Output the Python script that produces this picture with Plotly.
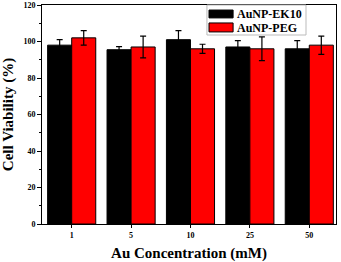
import plotly.graph_objects as go

categories = ["1", "5", "10", "25", "50"]
ek10 = [98, 95.5, 101, 97, 96]
ek10_err = [3, 1.7, 5, 3.5, 4.5]
peg = [102, 97, 96, 96, 98]
peg_err = [4, 6, 2.5, 6.5, 5]
series_names = ["AuNP-EK10", "AuNP-PEG"]
series_colors = ["#000000", "#ff0000"]

font_family = "Liberation Serif, Times New Roman, serif"

fig = go.Figure()
for name, vals, errs, col in zip(series_names, [ek10, peg], [ek10_err, peg_err], series_colors):
    fig.add_trace(go.Bar(
        x=categories, y=vals, name=name, showlegend=False,
        marker=dict(color=col, line=dict(color="#000000", width=1)),
        error_y=dict(type="data", array=errs, color="#000000", thickness=1.2, width=3),
    ))

# custom legend (box, swatches, labels) in paper coordinates
fig.add_shape(type="rect", xref="paper", yref="paper", x0=0.561, x1=0.898, y0=0.863, y1=1.0,
              line=dict(color="#bbbbbb", width=1), fillcolor="white", layer="above")
sw_y = [(0.941, 0.977), (0.877, 0.918)]
txt_y = [0.959, 0.897]
for i, (name, col) in enumerate(zip(series_names, series_colors)):
    fig.add_shape(type="rect", xref="paper", yref="paper", x0=0.568, x1=0.650,
                  y0=sw_y[i][0], y1=sw_y[i][1], line=dict(color="black", width=1),
                  fillcolor=col, layer="above")
    fig.add_annotation(xref="paper", yref="paper", x=0.656, y=txt_y[i], xanchor="left", yanchor="middle",
                       text="<b>" + name + "</b>", showarrow=False,
                       font=dict(family=font_family, size=12, color="black"))

fig.update_layout(
    width=341, height=262,
    margin=dict(l=42, r=5, t=5, b=38, autoexpand=False),
    barmode="group", bargap=0.19, bargroupgap=0,
    plot_bgcolor="white", paper_bgcolor="white",
    font=dict(family=font_family, color="black"),
    showlegend=False,
    xaxis=dict(
        type="category", range=[-0.5, 4.45], automargin=False,
        showline=True, linecolor="black", linewidth=1, mirror=True,
        ticks="outside", ticklen=3, tickcolor="black",
        tickfont=dict(family=font_family, size=8, color="black", weight="bold"),
        title=dict(text="<b>Au Concentration (mM)</b>", font=dict(family=font_family, size=15, color="black")),
        showgrid=False,
    ),
    yaxis=dict(
        range=[0, 120], dtick=20, automargin=False,
        showline=True, linecolor="black", linewidth=1, mirror=True,
        ticks="outside", ticklen=4, tickcolor="black",
        minor=dict(dtick=10, ticks="outside", ticklen=2, tickcolor="black"),
        tickfont=dict(family=font_family, size=8, color="black", weight="bold"),
        title=dict(text="<b>Cell Viability (%)</b>", font=dict(family=font_family, size=15, color="black")),
        showgrid=False, zeroline=False,
    ),
)

fig.write_html("out.html", config={"displayModeBar": False},
               post_script="document.body.style.margin='0px';")
